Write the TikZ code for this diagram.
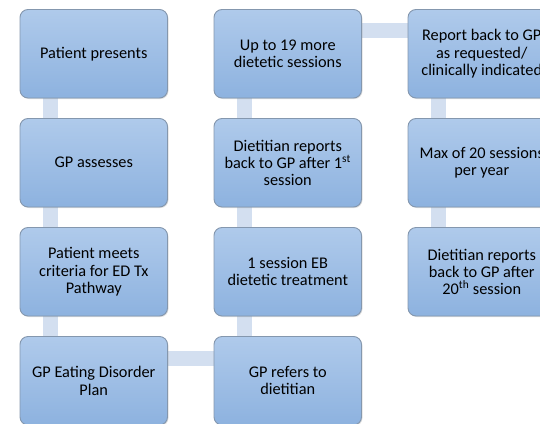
\documentclass[tikz,border=0pt]{standalone}
\usepackage{fontspec}
\setmainfont{Carlito}
\usetikzlibrary{backgrounds,shadows}
\definecolor{boxtop}{HTML}{AFCAEB}
\definecolor{boxbot}{HTML}{8DB2DF}
\definecolor{boxline}{HTML}{8497AE}
\definecolor{linkblue}{HTML}{D3DFF0}
\tikzset{
	stepbox/.style={rectangle, rounded corners=8pt, draw=boxline, line width=0.9pt,
		top color=boxtop, bottom color=boxbot, minimum width=147.5pt, minimum height=88.5pt,
		inner sep=0pt, align=center, font=\fontsize{16.3}{17.3}\selectfont,
		drop shadow={opacity=0.25, shadow xshift=1pt, shadow yshift=-1pt}},
	link/.style={draw=linkblue, line width=15pt}
}

\begin{document}
\begin{tikzpicture}[x=1pt, y=-1pt]
			%%%%% START %%%%%
			\clip (0, 0) rectangle (540, 423);
			
			% first column
			\node[stepbox] (pp) at (93.75, 53.75) {Patient presents};
			\node[stepbox] (ga) at (93.75, 162.75) {GP assesses};
			\node[stepbox] (crit) at (93.75, 271.75) {Patient meets\\criteria for ED Tx\\Pathway};
			\node[stepbox] (edp) at (93.75, 380.75) {GP Eating Disorder\\Plan};
			
			% second column
			\node[stepbox] (ref) at (287.75, 380.75) {GP refers to\\dietitian};
			\node[stepbox] (one) at (287.75, 271.75) {1 session EB\\dietetic treatment};
			\node[stepbox] (rep1) at (287.75, 162.75) {Dietitian reports\\back to GP after 1\textsuperscript{st}\\session};
			\node[stepbox] (more) at (287.75, 53.75) {Up to 19 more\\dietetic sessions};
			
			% third column
			\node[stepbox] (back) at (481.75, 53.75) {Report back to GP\\as requested/\\clinically indicated};
			\node[stepbox] (max) at (481.75, 162.75) {Max of 20 sessions\\per year};
			\node[stepbox] (rep20) at (481.75, 271.75) {Dietitian reports\\back to GP after\\20\textsuperscript{th} session};
			
			\begin{scope}[on background layer]
				\draw[link] ([xshift=31pt]pp.south west) -- ([xshift=31pt]ga.north west);
				\draw[link] ([xshift=31pt]ga.south west) -- ([xshift=31pt]crit.north west);
				\draw[link] ([xshift=31pt]crit.south west) -- ([xshift=31pt]edp.north west);
				\draw[link] ([yshift=-22.5pt]edp.north east) -- ([yshift=-22.5pt]ref.north west);
				\draw[link] ([xshift=31pt]ref.north west) -- ([xshift=31pt]one.south west);
				\draw[link] ([xshift=31pt]one.north west) -- ([xshift=31pt]rep1.south west);
				\draw[link] ([xshift=31pt]rep1.north west) -- ([xshift=31pt]more.south west);
				\draw[link] ([yshift=-21.5pt]more.north east) -- ([yshift=-21.5pt]back.north west);
				\draw[link] ([xshift=31pt]back.south west) -- ([xshift=31pt]max.north west);
				\draw[link] ([xshift=31pt]max.south west) -- ([xshift=31pt]rep20.north west);
			\end{scope}
			%%%%% END %%%%%
\end{tikzpicture}
\end{document}
